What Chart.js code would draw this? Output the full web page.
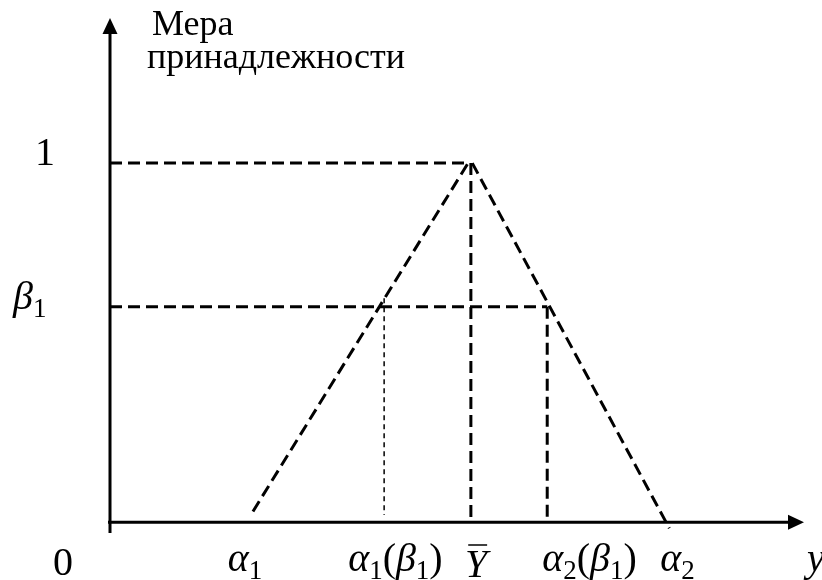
<!DOCTYPE html>
<html>
<head>
<meta charset="utf-8">
<script src="https://cdn.jsdelivr.net/npm/chart.js@4"></script>
<style>
  html, body { margin: 0; padding: 0; background: #fff; }
  canvas { display: block; }
</style>
</head>
<body>
<canvas id="chart" width="822" height="580"></canvas>
<script>
// marked points on the y axis: α1, α1(β1), Ȳ, α2(β1), α2
const xMarks = [2.0, 3.95, 5.2, 6.3, 8.0];
const xMarkLabels = ["α1", "α1(β1)", "Ȳ", "α2(β1)", "α2"];

// membership levels on the vertical axis
const yLevels = [1, 0.6];
const yLevelLabels = ["1", "β1"];

// sides of the triangular membership function
const leftLeg = [{ x: 2.06, y: 0.03 }, { x: 5.16, y: 1.0 }];
const rightLeg = [{ x: 5.22, y: 1.0 }, { x: 8.06, y: -0.017 }];

const xRange = [0, 10];
const yRange = [-0.03, 1.404];

const FONT = '"Liberation Serif", "Times New Roman", serif';
const SIZE = 40;
const SUB_SIZE = 27;

const [a1, a1b1, yBar, a2b1, a2] = xMarks;
const [one, beta1] = yLevels;

const dash = { borderColor: "#000", borderWidth: 3, borderDash: [12, 6], showLine: true, pointRadius: 0 };

// draws a label with italic letters and subscript digits
function drawMath(ctx, text, x, y) {
  let cx = x;
  let prev = "";
  for (const ch of text) {
    const sub = /[0-9]/.test(ch) && /[A-Za-zα-ω]/.test(prev);
    const italic = /[A-Za-zα-ωȲ]/.test(ch);
    const glyph = ch === "Ȳ" ? "Y" : ch;
    ctx.font = (italic ? "italic " : "") + (sub ? SUB_SIZE : SIZE) + "px " + FONT;
    ctx.fillText(glyph, cx, y + (sub ? 8 : 0));
    const w = ctx.measureText(glyph).width;
    if (ch === "Ȳ") {
      ctx.lineWidth = 1.5;
      ctx.beginPath();
      ctx.moveTo(cx + w * 0.15, y - 32);
      ctx.lineTo(cx + w, y - 32);
      ctx.stroke();
    }
    cx += w;
    prev = ch;
  }
}

const axesAndLabels = {
  id: "axesAndLabels",
  beforeDatasetsDraw(chart) {
    const { ctx, scales: { x, y } } = chart;
    const x0 = x.getPixelForValue(0);
    const y0 = y.getPixelForValue(0);
    const top = y.getPixelForValue(yRange[1]);
    const right = x.getPixelForValue(xRange[1]);
    ctx.save();
    ctx.strokeStyle = "#000";
    ctx.fillStyle = "#000";
    ctx.lineWidth = 3;
    ctx.beginPath();
    ctx.moveTo(x0, y.getPixelForValue(yRange[0]));
    ctx.lineTo(x0, top + 14);
    ctx.moveTo(x0 - 2, y0);
    ctx.lineTo(right - 14, y0);
    ctx.stroke();
    // arrow heads
    ctx.beginPath();
    ctx.moveTo(x0, top);
    ctx.lineTo(x0 - 7.5, top + 16);
    ctx.lineTo(x0 + 7.5, top + 16);
    ctx.closePath();
    ctx.moveTo(right, y0);
    ctx.lineTo(right - 16, y0 - 7.5);
    ctx.lineTo(right - 16, y0 + 7.5);
    ctx.closePath();
    ctx.fill();
    ctx.restore();
  },
  afterDraw(chart) {
    const { ctx, scales: { x, y } } = chart;
    const x0 = x.getPixelForValue(0);
    ctx.save();
    ctx.fillStyle = "#000";
    ctx.strokeStyle = "#000";
    ctx.textBaseline = "alphabetic";

    const xShift = [[-21, 571], [-36, 571], [-6, 577], [-5, 571], [-5, 571]];
    xMarks.forEach((v, i) => drawMath(ctx, xMarkLabels[i], x.getPixelForValue(v) + xShift[i][0], xShift[i][1]));
    drawMath(ctx, "0", x0 - 57, 575);
    drawMath(ctx, "y", x.getPixelForValue(xRange[1]) + 3, 571);

    const yShift = [[-75, 2], [-97, 2]];
    yLevels.forEach((v, i) => drawMath(ctx, yLevelLabels[i], x0 + yShift[i][0], y.getPixelForValue(v) + yShift[i][1]));

    ctx.font = "36px " + FONT;
    ctx.fillText("Мера", x0 + 42, 35);
    ctx.fillText("принадлежности", x0 + 37, 68);
    ctx.restore();
  }
};

new Chart(document.getElementById("chart"), {
  type: "scatter",
  data: {
    datasets: [
      { ...dash, data: [{ x: 0, y: one }, { x: leftLeg[1].x, y: one }] },
      { ...dash, data: [{ x: 0, y: beta1 }, { x: a2b1, y: beta1 }] },
      { ...dash, data: leftLeg },
      { ...dash, data: rightLeg },
      { ...dash, data: [{ x: yBar, y: one }, { x: yBar, y: 0 }] },
      { ...dash, data: [{ x: a2b1, y: beta1 }, { x: a2b1, y: 0 }] },
      { ...dash, borderWidth: 1.5, borderDash: [5, 4], data: [{ x: a1b1, y: 0.624 }, { x: a1b1, y: 0.02 }] }
    ]
  },
  options: {
    responsive: false,
    animation: false,
    devicePixelRatio: 1,
    layout: { padding: { left: 110, right: 18, top: 18, bottom: 47 } },
    scales: {
      x: { type: "linear", min: xRange[0], max: xRange[1], display: false },
      y: { type: "linear", min: yRange[0], max: yRange[1], display: false }
    },
    plugins: { legend: { display: false }, tooltip: { enabled: false } },
    elements: { line: { tension: 0, borderCapStyle: "butt" } }
  },
  plugins: [axesAndLabels]
});
</script>
</body>
</html>
